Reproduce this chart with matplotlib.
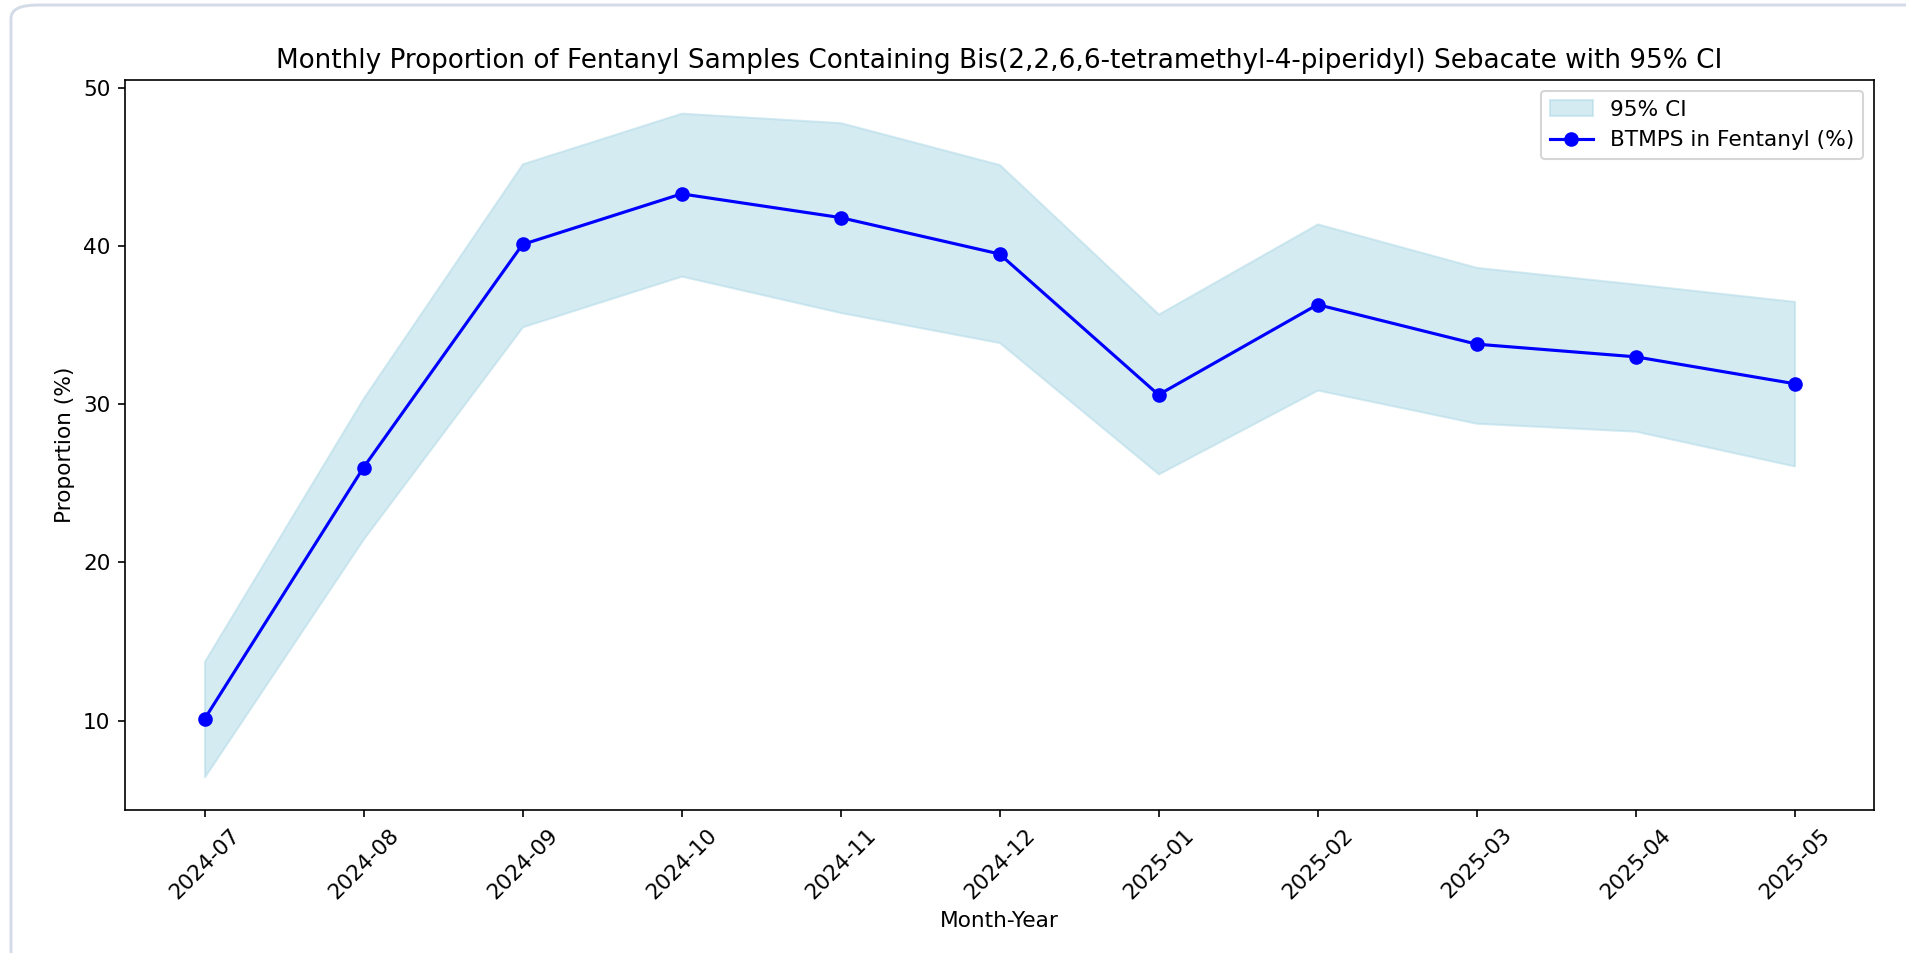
import matplotlib
matplotlib.use("Agg")
import matplotlib.pyplot as plt
from matplotlib.patches import FancyBboxPatch

months = ["2024-07", "2024-08", "2024-09", "2024-10", "2024-11", "2024-12",
          "2025-01", "2025-02", "2025-03", "2025-04", "2025-05"]
btmps_pct = [10.1, 26.0, 40.1, 43.3, 41.8, 39.5, 30.6, 36.3, 33.8, 33.0, 31.3]
ci_lower = [6.45, 21.5, 34.9, 38.1, 35.8, 33.9, 25.6, 30.9, 28.8, 28.3, 26.1]
ci_upper = [13.75, 30.4, 45.2, 48.4, 47.8, 45.15, 35.7, 41.4, 38.65, 37.6, 36.5]

plt.rcParams["font.size"] = 10.4
plt.rcParams["axes.titlesize"] = 12.6

DPI = 150
W, H = 1906, 953
fig = plt.figure(figsize=(W / DPI, H / DPI), dpi=DPI)
fig.patch.set_facecolor("white")

# notebook output cell frame
frame = FancyBboxPatch((11 / W, -0.2), 1.2, 1.2 - 5 / H,
                       boxstyle="round,pad=0,rounding_size=0.014",
                       transform=fig.transFigure, facecolor="none",
                       edgecolor="#d3dbe7", linewidth=1.4, zorder=0)
fig.patches.append(frame)

ax = fig.add_axes([125 / W, 1 - 810 / H, (1874 - 125) / W, (810 - 80) / H])

ax.fill_between(months, ci_lower, ci_upper, color="lightblue", alpha=0.5,
                label="95% CI")
ax.plot(months, btmps_pct, marker="o", color="blue",
        label="BTMPS in Fentanyl (%)")

ax.set_title("Monthly Proportion of Fentanyl Samples Containing "
             "Bis(2,2,6,6-tetramethyl-4-piperidyl) Sebacate with 95% CI")
ax.set_xlabel("Month-Year")
ax.set_ylabel("Proportion (%)")
ax.set_yticks([10, 20, 30, 40, 50])
plt.setp(ax.get_xticklabels(), rotation=45)
ax.legend(loc="upper right")

fig.savefig("out.png", dpi=DPI)
